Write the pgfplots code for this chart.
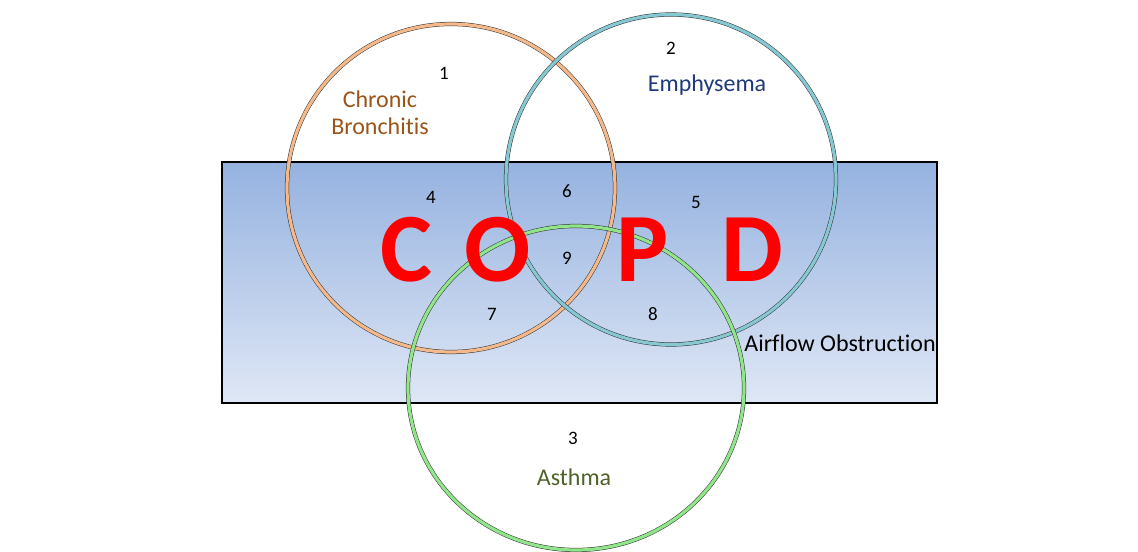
\documentclass[border=0pt]{standalone}
\usepackage{pgfplots}
\pgfplotsset{compat=1.18}
\usepackage{fontspec}
\setmainfont{Carlito}[Ligatures=NoCommon]
\definecolor{rtop}{HTML}{95B2E0}
\definecolor{rbot}{HTML}{DFE7F5}
\definecolor{cbc}{HTML}{F4B98A}
\definecolor{emc}{HTML}{86C8D2}
\definecolor{asc}{HTML}{90E48A}
\definecolor{cbtxt}{HTML}{9A5418}
\definecolor{emtxt}{HTML}{1F3A78}
\definecolor{astxt}{HTML}{4F6228}
\tikzset{nums/.style={font=\fontsize{9.5}{11}\selectfont,inner sep=1pt},
  copd/.style={font=\fontsize{49}{55}\selectfont\bfseries,text=red,inner sep=0pt}}
\begin{document}
\begin{tikzpicture}
\begin{axis}[x=0.5pt,y=0.5pt,xmin=0,xmax=1138,ymin=0,ymax=551,hide axis,clip=false]
\coordinate (bl) at (axis cs:0,0);
\coordinate (tr) at (axis cs:1138,551);
% rectangle (image y flipped: y = 551 - y_img)
\shade[top color=rtop,bottom color=rbot] (axis cs:222,389) rectangle (axis cs:937,148);
\draw[line width=1.1pt,black] (axis cs:222,389) rectangle (axis cs:937,148);
% circles: dark edge then coloured stroke
\draw[line width=2.1pt,black!80] (axis cs:451,363) circle[radius=164];
\draw[line width=1.6pt,cbc] (axis cs:451,363) circle[radius=164];
\draw[line width=2.1pt,black!80] (axis cs:671,371.5) circle[radius=165];
\draw[line width=1.6pt,emc] (axis cs:671,371.5) circle[radius=165];
\draw[line width=2.1pt,black!80] (axis cs:576,163) ellipse[x radius=168,y radius=162];
\draw[line width=1.6pt,asc] (axis cs:576,163) ellipse[x radius=168,y radius=162];
% numbers
\node[nums] at (axis cs:444,478) {1};
\node[nums] at (axis cs:671,503) {2};
\node[nums] at (axis cs:573,113) {3};
\node[nums] at (axis cs:431,354) {4};
\node[nums] at (axis cs:696,349) {5};
\node[nums] at (axis cs:567,360) {6};
\node[nums] at (axis cs:492,237) {7};
\node[nums] at (axis cs:653,237) {8};
\node[nums] at (axis cs:567,293) {9};
% labels
\node[font=\fontsize{12}{13.5}\selectfont,text=cbtxt,align=center] at (axis cs:380,438) {Chronic\\Bronchitis};
\node[font=\fontsize{12}{14}\selectfont,text=emtxt] at (axis cs:707,466) {Emphysema};
\node[font=\fontsize{12}{14}\selectfont,text=astxt] at (axis cs:574,74) {Asthma};
\node[font=\fontsize{12}{14}\selectfont,anchor=west,inner sep=0pt] at (axis cs:744,208) {Airflow Obstruction};
% COPD
\node[copd] at (axis cs:406,301) {C};
\node[copd] at (axis cs:498,301) {O};
\node[copd] at (axis cs:643,301) {P};
\node[copd] at (axis cs:752,301) {D};
\end{axis}
\pgfresetboundingbox
\path[use as bounding box] (bl) rectangle (tr);
\end{tikzpicture}
\end{document}
